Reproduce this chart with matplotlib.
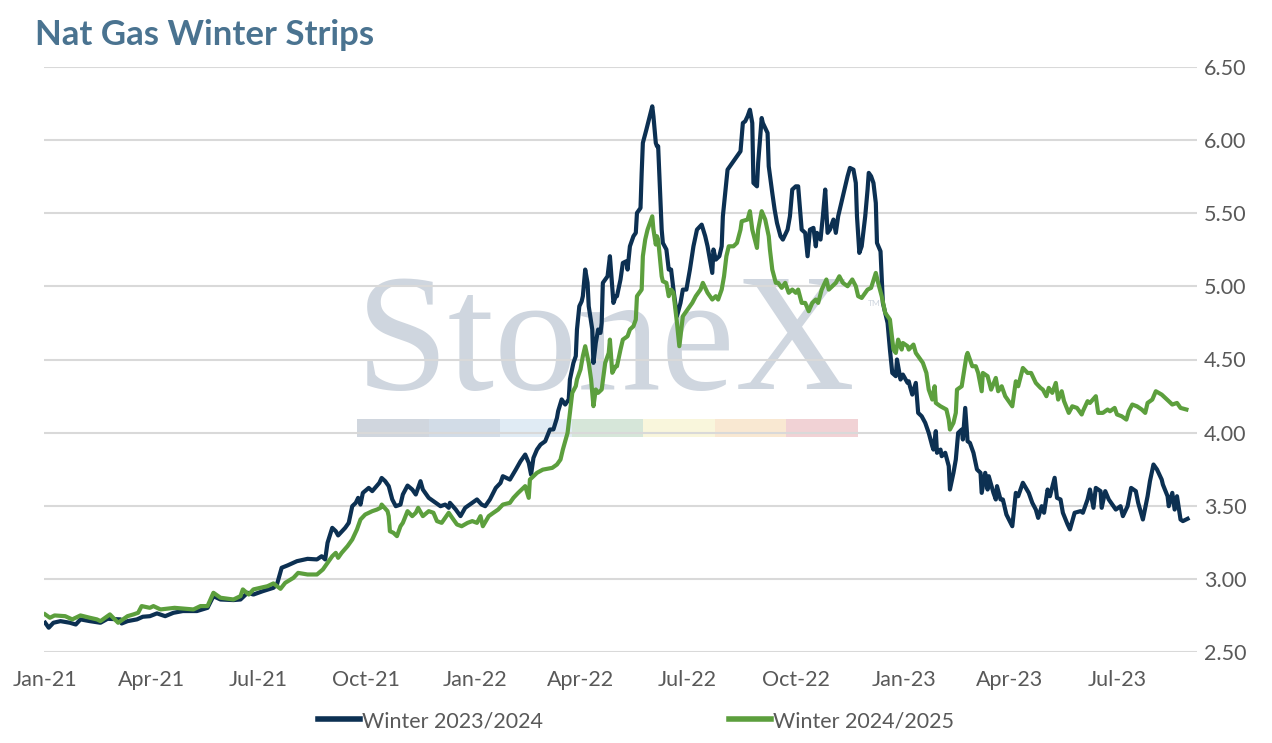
import matplotlib
matplotlib.use("Agg")
import matplotlib.pyplot as plt
import matplotlib.dates as mdates
from matplotlib.patches import Rectangle
from matplotlib.ticker import FormatStrFormatter
import numpy as np
import pandas as pd

plt.rcParams['font.family'] = ['Lato', 'DejaVu Sans']

START = pd.Timestamp('2021-01-01')

# Winter 2023/2024 strip: days since 2021-01-01, price
blue_days = [0, 3, 7, 13, 21, 26, 30, 38, 47, 53, 64, 65, 70, 78, 83, 89, 95, 102, 109, 117,
             129, 138, 143, 149, 160, 166, 172, 177, 185, 194, 197, 201, 206, 214, 223, 231, 235, 238, 240, 244,
             247, 249, 255, 258, 261, 264, 266, 268, 270, 275, 278, 282, 284, 286, 289, 292, 295, 298, 302, 304,
             308, 312, 315, 319, 321, 326, 332, 336, 340, 343, 344, 349, 351, 353, 357, 363, 367, 371, 374, 378,
             383, 387, 389, 395, 400, 404, 408, 411, 413, 415, 418, 421, 425, 429, 432, 435, 436, 439, 442, 445,
             446, 449, 451, 452, 454, 456, 457, 459, 461, 462, 465, 466, 468, 470, 472, 473, 474, 478, 480, 483,
             485, 486, 489, 491, 494, 495, 497, 500, 502, 503, 506, 507, 508, 511, 516, 517, 519, 520, 521, 524,
             525, 528, 530, 532, 534, 537, 540, 542, 545, 548, 551, 554, 558, 561, 563, 565, 567, 568, 570, 573,
             575, 576, 580, 582, 585, 588, 591, 593, 595, 597, 599, 601, 602, 605, 606, 609, 610, 614, 615, 618,
             620, 622, 625, 627, 631, 633, 635, 638, 640, 643, 646, 648, 650, 653, 655, 656, 659, 661, 663, 665,
             667, 670, 672, 674, 678, 682, 684, 687, 689, 690, 692, 694, 697, 699, 700, 702, 704, 706, 707, 710,
             711, 712, 716, 718, 720, 723, 724, 727, 729, 733, 734, 735, 737, 740, 742, 745, 748, 751, 754, 755,
             757, 758, 761, 762, 765, 768, 769, 772, 774, 776, 779, 780, 782, 784, 786, 789, 792, 795, 796, 799,
             801, 802, 806, 808, 809, 812, 814, 817, 822, 825, 827, 831, 836, 839, 842, 844, 847, 849, 852, 854,
             858, 860, 863, 865, 869, 871, 875, 880, 882, 886, 888, 891, 893, 897, 898, 901, 904, 907, 910, 914,
             916, 920, 923, 927, 929, 933, 937, 939, 942, 945, 949, 950, 954, 955, 958, 960, 962, 965, 967, 971]
blue_vals = [2.700, 2.666, 2.700, 2.711, 2.700, 2.688, 2.723, 2.711, 2.700, 2.727, 2.723, 2.695, 2.711, 2.723, 2.741, 2.745, 2.764, 2.745, 2.768, 2.780,
             2.780, 2.802, 2.882, 2.859, 2.855, 2.859, 2.905, 2.893, 2.916, 2.939, 2.962, 3.076, 3.092, 3.121, 3.137, 3.133, 3.155, 3.133, 3.247, 3.349,
             3.326, 3.297, 3.349, 3.383, 3.497, 3.520, 3.554, 3.508, 3.588, 3.622, 3.600, 3.638, 3.656, 3.690, 3.668, 3.634, 3.543, 3.497, 3.508, 3.577,
             3.638, 3.611, 3.577, 3.668, 3.611, 3.554, 3.520, 3.497, 3.508, 3.486, 3.520, 3.474, 3.452, 3.429, 3.486, 3.520, 3.543, 3.508, 3.497, 3.543,
             3.622, 3.656, 3.702, 3.679, 3.747, 3.804, 3.850, 3.793, 3.713, 3.827, 3.884, 3.918, 3.941, 4.021, 4.022, 4.101, 4.147, 4.227, 4.192, 4.227,
             4.363, 4.477, 4.523, 4.705, 4.864, 4.898, 4.933, 5.115, 5.024, 4.864, 4.705, 4.477, 4.614, 4.705, 4.682, 4.750, 5.024, 5.069, 5.206, 4.887,
             4.933, 4.933, 5.047, 5.160, 5.172, 5.115, 5.274, 5.343, 5.366, 5.502, 5.536, 5.776, 5.981, 6.072, 6.231, 6.163, 5.981, 5.958, 5.958, 5.388,
             5.297, 5.252, 5.115, 5.115, 4.978, 4.796, 4.887, 4.978, 4.978, 5.115, 5.274, 5.388, 5.422, 5.343, 5.274, 5.183, 5.092, 5.252, 5.183, 5.206,
             5.274, 5.479, 5.798, 5.821, 5.855, 5.889, 5.924, 6.117, 6.129, 6.163, 6.208, 6.117, 5.707, 5.684, 5.844, 6.151, 6.117, 6.049, 5.821, 5.639,
             5.525, 5.434, 5.343, 5.320, 5.388, 5.479, 5.662, 5.684, 5.684, 5.388, 5.366, 5.206, 5.388, 5.400, 5.274, 5.366, 5.320, 5.479, 5.662, 5.366,
             5.388, 5.457, 5.366, 5.479, 5.616, 5.753, 5.810, 5.798, 5.707, 5.479, 5.229, 5.274, 5.479, 5.662, 5.776, 5.753, 5.707, 5.570, 5.297, 5.240,
             5.069, 4.887, 4.750, 4.568, 4.408, 4.386, 4.500, 4.363, 4.397, 4.340, 4.351, 4.317, 4.260, 4.340, 4.135, 4.112, 4.067, 3.998, 3.907, 3.884,
             4.010, 3.862, 3.884, 3.839, 3.862, 3.771, 3.611, 3.725, 3.816, 3.998, 4.021, 3.953, 4.169, 3.941, 3.930, 3.862, 3.748, 3.725, 3.588, 3.725,
             3.611, 3.702, 3.588, 3.543, 3.634, 3.543, 3.543, 3.440, 3.360, 3.588, 3.565, 3.657, 3.588, 3.520, 3.474, 3.417, 3.497, 3.452, 3.611, 3.565,
             3.691, 3.554, 3.543, 3.452, 3.372, 3.338, 3.452, 3.463, 3.452, 3.543, 3.611, 3.486, 3.622, 3.600, 3.486, 3.600, 3.543, 3.508, 3.474, 3.497,
             3.429, 3.497, 3.622, 3.600, 3.520, 3.406, 3.565, 3.668, 3.782, 3.748, 3.679, 3.645, 3.565, 3.497, 3.588, 3.474, 3.565, 3.406, 3.395, 3.411]

# Winter 2024/2025 strip
green_days = [0, 4, 8, 17, 23, 30, 38, 44, 47, 55, 62, 70, 75, 79, 82, 89, 92, 98, 110, 126,
              132, 138, 143, 149, 160, 166, 168, 173, 177, 183, 189, 194, 200, 204, 211, 215, 223, 231, 236, 240,
              244, 247, 249, 252, 257, 261, 265, 268, 272, 278, 282, 285, 286, 291, 292, 293, 296, 299, 302, 304,
              308, 312, 315, 317, 321, 326, 330, 333, 337, 340, 343, 346, 350, 354, 359, 363, 367, 370, 372, 377,
              381, 385, 389, 395, 398, 402, 408, 411, 412, 418, 423, 431, 435, 438, 440, 444, 448, 451, 452, 455,
              457, 459, 462, 464, 466, 468, 470, 473, 476, 479, 480, 482, 485, 486, 489, 491, 495, 497, 500, 502,
              503, 507, 508, 510, 512, 516, 517, 519, 520, 521, 524, 525, 528, 530, 532, 534, 537, 539, 542, 546,
              550, 553, 557, 559, 563, 567, 570, 572, 575, 577, 579, 581, 585, 588, 591, 592, 597, 599, 601, 605,
              606, 609, 612, 615, 616, 618, 621, 623, 626, 629, 632, 635, 638, 640, 643, 646, 649, 652, 655, 657,
              660, 664, 666, 669, 672, 675, 678, 682, 686, 689, 691, 694, 699, 702, 706, 708, 711, 714, 718, 721,
              723, 725, 728, 729, 733, 734, 738, 740, 744, 746, 749, 751, 754, 756, 757, 761, 766, 768, 769, 772,
              774, 775, 779, 783, 784, 788, 791, 793, 796, 797, 801, 804, 808, 810, 813, 816, 822, 825, 827, 831,
              835, 838, 842, 846, 848, 851, 853, 856, 859, 861, 864, 866, 870, 873, 877, 881, 882, 886, 888, 893,
              895, 899, 903, 905, 909, 911, 915, 919, 921, 924, 928, 932, 935, 937, 941, 944, 949, 952, 955, 958,
              962, 965, 970]
green_vals = [2.757, 2.734, 2.750, 2.745, 2.723, 2.750, 2.734, 2.723, 2.711, 2.757, 2.700, 2.745, 2.757, 2.768, 2.814, 2.802, 2.814, 2.791, 2.802, 2.791,
              2.814, 2.814, 2.905, 2.871, 2.859, 2.882, 2.928, 2.893, 2.928, 2.939, 2.950, 2.969, 2.932, 2.973, 3.007, 3.041, 3.030, 3.030, 3.064, 3.110,
              3.155, 3.178, 3.144, 3.178, 3.224, 3.269, 3.338, 3.406, 3.440, 3.463, 3.474, 3.486, 3.508, 3.463, 3.429, 3.326, 3.315, 3.292, 3.360, 3.383,
              3.463, 3.429, 3.452, 3.486, 3.429, 3.463, 3.452, 3.395, 3.383, 3.417, 3.452, 3.417, 3.372, 3.360, 3.383, 3.395, 3.383, 3.429, 3.360, 3.429,
              3.452, 3.474, 3.508, 3.520, 3.554, 3.588, 3.634, 3.554, 3.679, 3.725, 3.747, 3.759, 3.782, 3.816, 3.884, 3.998, 4.272, 4.318, 4.363, 4.432,
              4.523, 4.591, 4.477, 4.363, 4.181, 4.295, 4.272, 4.295, 4.477, 4.545, 4.636, 4.409, 4.454, 4.454, 4.568, 4.636, 4.659, 4.705, 4.728, 4.773,
              4.933, 4.978, 5.206, 5.320, 5.388, 5.479, 5.388, 5.286, 5.343, 5.320, 5.069, 5.035, 5.024, 4.933, 4.978, 4.956, 4.750, 4.591, 4.796, 4.842,
              4.887, 4.933, 4.978, 5.024, 4.956, 4.910, 4.933, 4.910, 4.978, 5.069, 5.206, 5.274, 5.274, 5.297, 5.388, 5.445, 5.457, 5.514, 5.388, 5.263,
              5.388, 5.514, 5.457, 5.343, 5.252, 5.115, 5.024, 5.024, 4.990, 5.024, 4.956, 4.978, 4.956, 4.978, 4.887, 4.887, 4.830, 4.887, 4.910, 4.887,
              4.978, 5.047, 4.978, 5.001, 5.024, 5.069, 5.024, 5.001, 5.047, 5.001, 4.933, 4.921, 4.978, 4.990, 5.092, 5.024, 4.933, 4.819, 4.773, 4.568,
              4.545, 4.636, 4.568, 4.613, 4.591, 4.568, 4.602, 4.545, 4.500, 4.477, 4.408, 4.294, 4.226, 4.317, 4.203, 4.180, 4.158, 4.089, 4.021, 4.067,
              4.135, 4.294, 4.317, 4.522, 4.545, 4.454, 4.454, 4.408, 4.283, 4.408, 4.386, 4.294, 4.374, 4.283, 4.317, 4.249, 4.180, 4.351, 4.317, 4.442,
              4.408, 4.408, 4.340, 4.306, 4.294, 4.249, 4.306, 4.272, 4.340, 4.226, 4.283, 4.215, 4.135, 4.180, 4.169, 4.124, 4.146, 4.215, 4.203, 4.249,
              4.135, 4.135, 4.158, 4.146, 4.169, 4.124, 4.112, 4.089, 4.146, 4.192, 4.180, 4.158, 4.135, 4.203, 4.226, 4.283, 4.260, 4.238, 4.215, 4.192,
              4.203, 4.169, 4.158]

series_names = ['Winter 2023/2024', 'Winter 2024/2025']
series_colors = ['#0c3052', '#5c9f3d']
y_ticks = [2.5, 3.0, 3.5, 4.0, 4.5, 5.0, 5.5, 6.0, 6.5]
watermark_colors = ['#d0d6de', '#d2dce7', '#e0ebf4', '#d6e6d9', '#f9f6dc', '#f9e8d2', '#f1d2d5']

blue_dates = START + pd.to_timedelta(blue_days, unit='D')
green_dates = START + pd.to_timedelta(green_days, unit='D')

fig = plt.figure(figsize=(12.72, 7.43), dpi=100)
ax = fig.add_axes([44 / 1272, 1 - 652 / 743, (1197 - 44) / 1272, (652 - 67) / 743])
ax.set_facecolor('none')

# watermark behind everything
ax.text(0.4765, 1 - 389 / 743, 'StoneX', transform=fig.transFigure, ha='center', va='baseline',
        fontsize=120, family='Liberation Serif', color='#cfd6df', zorder=0.1)
ax.text(868 / 1272, 1 - 306 / 743, 'TM', transform=fig.transFigure, fontsize=6,
        color='#cfd6df', zorder=0.1)
seg_w = (858 - 357) / 7
for i, c in enumerate(watermark_colors):
    ax.add_patch(Rectangle(((357 + i * seg_w) / 1272, 1 - 437 / 743), seg_w / 1272, 18 / 743,
                           transform=fig.transFigure, facecolor=c, edgecolor='none', zorder=0.1))

ax.plot(blue_dates, blue_vals, color=series_colors[0], lw=3.0, label=series_names[0], zorder=2)
ax.plot(green_dates, green_vals, color=series_colors[1], lw=3.0, label=series_names[1], zorder=2.1)

ax.set_ylim(2.5, 6.5)
ax.set_yticks(y_ticks)
ax.yaxis.set_major_formatter(FormatStrFormatter('%.2f'))
ax.yaxis.tick_right()
ax.set_xlim(START - pd.Timedelta(days=1), START + pd.Timedelta(days=979))
ax.xaxis.set_major_locator(mdates.MonthLocator(bymonth=[1, 4, 7, 10]))
ax.xaxis.set_major_formatter(mdates.DateFormatter('%b-%y'))

ax.set_axisbelow(True)
ax.grid(axis='y', color='#d9d9d9', lw=1.5, zorder=0.5)
for s in ax.spines.values():
    s.set_visible(False)
ax.tick_params(axis='both', length=0, labelsize=15.5, labelcolor='#595959')
ax.tick_params(axis='x', pad=13)
ax.tick_params(axis='y', pad=5)

fig.text(35 / 1272, 1 - 35 / 743, 'Nat Gas Winter Strips', fontsize=25, fontweight='bold',
         color='#4a7390', va='center', ha='left')

leg = fig.legend(loc='center', bbox_to_anchor=(0.5, 1 - 721 / 743), ncol=2, frameon=False,
                 fontsize=15.5, handlelength=1.95, handletextpad=0.1, columnspacing=8.6)
for t in leg.get_texts():
    t.set_color('#595959')
for h in leg.get_lines():
    h.set_linewidth(4)

fig.savefig('out.png', dpi=100)
